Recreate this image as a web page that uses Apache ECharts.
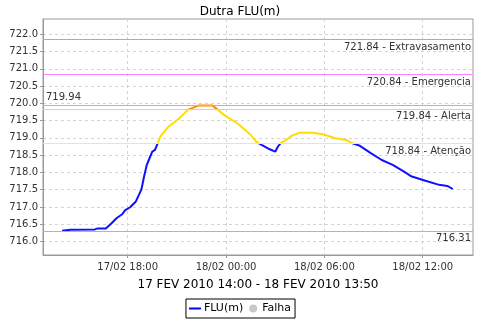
<!DOCTYPE html>
<html>
<head>
<meta charset="utf-8">
<script src="https://cdn.jsdelivr.net/npm/echarts@6/dist/echarts.min.js"></script>
<style>html,body{margin:0;padding:0;background:#fff}#c{width:480px;height:320px}</style>
</head>
<body>
<div id="c"></div>
<script>
// Data
var times = ['17/02 14:00','17/02 14:30','17/02 16:00','17/02 16:10','17/02 16:40','17/02 17:00','17/02 17:20','17/02 17:40','17/02 17:50','17/02 18:10','17/02 18:30','17/02 18:50','17/02 19:00','17/02 19:10','17/02 19:20','17/02 19:30','17/02 19:40','17/02 20:00','17/02 20:30','17/02 21:10','17/02 21:40','17/02 22:20','17/02 23:10','17/02 23:30','18/02 00:00','18/02 00:40','18/02 01:30','18/02 01:50','18/02 02:10','18/02 02:40','18/02 03:00','18/02 03:10','18/02 03:20','18/02 03:40','18/02 04:00','18/02 04:30','18/02 05:20','18/02 06:00','18/02 06:40','18/02 07:20','18/02 07:40','18/02 08:10','18/02 08:50','18/02 09:30','18/02 10:10','18/02 10:50','18/02 11:20','18/02 12:10','18/02 13:00','18/02 13:30','18/02 13:50'];
var values = [716.31,716.34,716.35,716.38,716.38,716.52,716.68,716.79,716.90,717.00,717.16,717.50,717.88,718.22,718.41,718.60,718.65,719.04,719.33,719.57,719.81,719.94,719.94,719.81,719.62,719.43,719.09,718.89,718.80,718.67,718.60,718.75,718.85,718.94,719.06,719.15,719.15,719.09,718.99,718.94,718.85,718.77,718.56,718.36,718.22,718.03,717.88,717.76,717.64,717.61,717.52];
var yTicks = [716.0,716.5,717.0,717.5,718.0,718.5,719.0,719.5,720.0,720.5,721.0,721.5,722.0];
var xTicks = ['17/02 18:00','18/02 00:00','18/02 06:00','18/02 12:00'];
var thresholds = [721.84, 720.84, 719.84, 718.84];
var thresholdNames = ['Extravasamento','Emergencia','Alerta','Atenção'];
var minValue = 716.31, maxValue = 719.94;
var xAxisTitle = '17 FEV 2010 14:00 - 18 FEV 2010 13:50';
var chartTitle = 'Dutra FLU(m)';

function parseT(s){
  var d = parseInt(s.substr(0,2),10), h = parseInt(s.substr(6,2),10), m = parseInt(s.substr(9,2),10);
  return Date.UTC(2010,1,d,h,m);
}
function pad(n){return (n<10?'0':'')+n;}
function fmtT(v){
  var d = new Date(v);
  return pad(d.getUTCDate())+'/'+pad(d.getUTCMonth()+1)+' '+pad(d.getUTCHours())+':'+pad(d.getUTCMinutes());
}
var seriesData = times.map(function(t,i){return [parseT(t), values[i]];});
var xTickVals = xTicks.map(parseT);
var font = 'DejaVu Sans';
var thrColors = ['#f09090','#ff80ff','#ffc880','#ffe680'];
var mlData = thresholds.map(function(v,i){
  return {yAxis:v, lineStyle:{color:thrColors[i],width:1,type:'solid'},
    label:{show:true,position:'insideEndBottom',formatter:v.toFixed(2)+' - '+thresholdNames[i],color:'#333',fontFamily:font,fontSize:10,distance:[2,3]}};
});
mlData.push({yAxis:maxValue, lineStyle:{color:'#b4b4b4',width:1,type:'solid'},
  label:{show:true,position:'insideStartTop',formatter:maxValue.toFixed(2),color:'#333',fontFamily:font,fontSize:10,distance:[3,3]}});
mlData.push({yAxis:minValue, lineStyle:{color:'#b4b4b4',width:1,type:'solid'},
  label:{show:true,position:'insideEndBottom',formatter:minValue.toFixed(2),color:'#333',fontFamily:font,fontSize:10,distance:[2,3]}});

var chart = echarts.init(document.getElementById('c'), null, {renderer:'canvas'});
chart.setOption({
  animation:false,
  backgroundColor:'#fff',
  title:{text:chartTitle,left:'center',top:1,textStyle:{fontFamily:font,fontSize:12,fontWeight:'normal',color:'#000'}},
  grid:{left:43,right:7,top:19,bottom:65,show:true,borderColor:'#999',borderWidth:1},
  legend:{bottom:2,left:'center',borderColor:'#000',borderWidth:1,padding:[4,4,4,3],itemGap:6,itemWidth:12,itemHeight:8,
    textStyle:{fontFamily:font,fontSize:11,color:'#000',padding:[0,0,0,-2]},
    data:[{name:'FLU(m)',icon:'path://M0,3 L12,3 L12,5 L0,5 Z',itemStyle:{color:'#0000ff'}},{name:'Falha',icon:'circle',itemStyle:{color:'#bbbbbb'}}]},
  visualMap:{show:false,type:'piecewise',dimension:1,seriesIndex:0,
    pieces:[{lt:718.84,color:'#1010ff'},{gte:718.84,lt:719.84,color:'#ffdd00'},{gte:719.84,color:'#ff8a00'}]},
  xAxis:{type:'value',min:Date.UTC(2010,1,17,12,50),max:Date.UTC(2010,1,18,15,4),
    name:xAxisTitle,nameLocation:'middle',nameGap:24,nameTextStyle:{fontFamily:font,fontSize:12,color:'#000'},
    axisLine:{lineStyle:{color:'#999'}},
    axisTick:{show:true,length:3,customValues:xTickVals,lineStyle:{color:'#999'}},
    axisLabel:{customValues:xTickVals,formatter:function(v){return fmtT(v);},fontFamily:font,fontSize:10,color:'#333',margin:7},
    splitLine:{show:true,lineStyle:{color:'#d4d4d4',type:[3,3]}}},
  yAxis:{type:'value',min:715.61,max:722.44,
    axisLine:{show:true,lineStyle:{color:'#999'}},
    axisTick:{show:true,length:3,customValues:yTicks,lineStyle:{color:'#999'}},
    axisLabel:{customValues:yTicks,formatter:function(v){return v.toFixed(1);},fontFamily:font,fontSize:10,color:'#333',margin:5},
    splitLine:{show:true,lineStyle:{color:'#d4d4d4',type:[3,3]}}},
  series:[
    {name:'FLU(m)',type:'line',data:seriesData,showSymbol:false,symbol:'none',lineStyle:{width:2},color:'#0000ff',
      markLine:{silent:true,symbol:['none','none'],data:mlData}},
    {name:'Falha',type:'scatter',data:[],color:'#bbbbbb'}
  ]
});
</script>
</body>
</html>
